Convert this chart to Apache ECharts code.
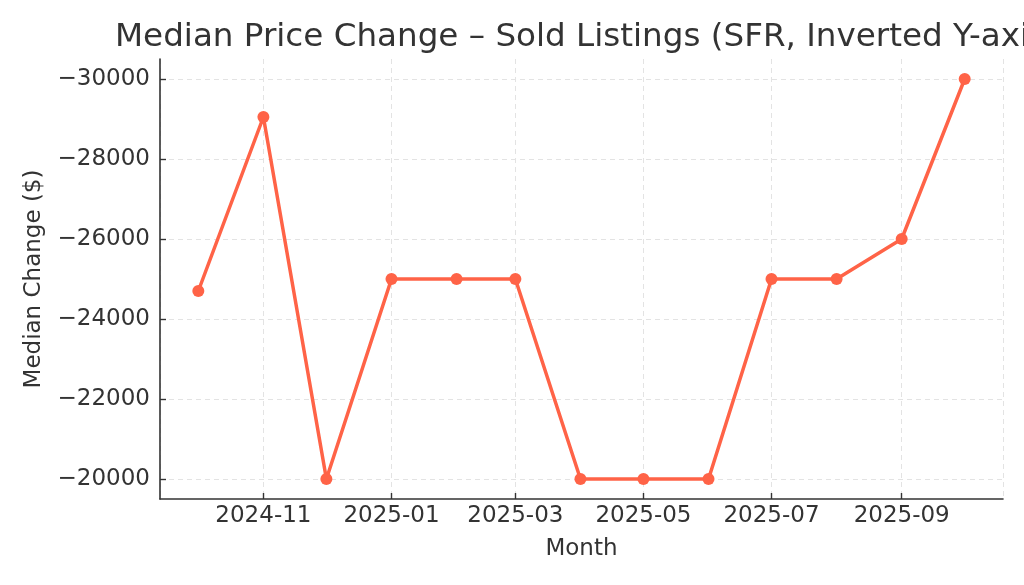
<!DOCTYPE html>
<html>
<head>
<meta charset="utf-8">
<script src="https://cdn.jsdelivr.net/npm/echarts@6/dist/echarts.min.js"></script>
<style>
  html, body { margin: 0; padding: 0; background: #fff; }
  #chart { width: 1024px; height: 585px; }
</style>
</head>
<body>
<div id="chart"></div>
<script>
// monthly points (first day of month)
var months = ['2024-10', '2024-11', '2024-12', '2025-01', '2025-02', '2025-03', '2025-04',
  '2025-05', '2025-06', '2025-07', '2025-08', '2025-09', '2025-10'];
var medianChange = [-24700, -29050, -20000, -25000, -25000, -25000, -20000,
  -20000, -20000, -25000, -25000, -26000, -30000];
var yTicks = [-30000, -28000, -26000, -24000, -22000, -20000];

function toTime(m) {
  var p = m.split('-');
  return Date.UTC(+p[0], +p[1] - 1, 1);
}
var times = months.map(toTime);
var span = times[times.length - 1] - times[0];
var xMin = times[0] - span * 0.05;
var xMax = times[times.length - 1] + span * 0.05;

var textColor = '#333333';
var font = 'DejaVu Sans';

var myChart = echarts.init(document.getElementById('chart'));
myChart.setOption({
  useUTC: true,
  animation: false,
  textStyle: { fontFamily: font, color: textColor },
  title: {
    text: 'Median Price Change \u2013 Sold Listings (SFR, Inverted Y-axis)',
    left: 110,
    top: 16,
    textStyle: { fontFamily: font, fontSize: 32.6, fontWeight: 'normal', color: textColor },
  },
  grid: [
    // main plot area (spines, x axis, data)
    { left: 160, right: 21, top: 59, bottom: 86, containLabel: false },
    // y tick area, inset by the 5% margin
    { left: 160, right: 21, top: 79, bottom: 106, containLabel: false },
  ],
  xAxis: [
    {
      type: 'time',
      gridIndex: 0,
      min: xMin,
      max: xMax,
      splitNumber: 5,
      name: 'Month',
      nameLocation: 'middle',
      nameGap: 39,
      nameTextStyle: { fontFamily: font, fontSize: 23, color: textColor },
      axisLine: { show: true, lineStyle: { color: textColor, width: 1.6 } },
      axisTick: { show: true, inside: true, length: 6, lineStyle: { color: textColor, width: 1.4 } },
      axisLabel: {
        formatter: '{yyyy}-{MM}',
        fontFamily: font,
        fontSize: 23,
        color: textColor,
        margin: 6,
        showMinLabel: false,
        showMaxLabel: false,
      },
      splitLine: { show: true, lineStyle: { color: '#e3e3e3', type: [5, 4], width: 1 } },
      minorTick: { show: false },
    },
    {
      type: 'time',
      gridIndex: 1,
      min: xMin,
      max: xMax,
      show: false,
    },
  ],
  yAxis: [
    {
      type: 'value',
      gridIndex: 0,
      inverse: true,
      min: -30500,
      max: -19500,
      axisLine: { show: true, lineStyle: { color: textColor, width: 1.6 } },
      axisTick: { show: false },
      axisLabel: { show: false },
      splitLine: { show: false },
    },
    {
      type: 'value',
      gridIndex: 1,
      inverse: true,
      min: yTicks[0],
      max: yTicks[yTicks.length - 1],
      interval: 2000,
      name: 'Median Change ($)',
      nameLocation: 'middle',
      nameGap: 114,
      nameTextStyle: { fontFamily: font, fontSize: 23, color: textColor },
      axisLine: { show: false },
      axisTick: { show: true, inside: true, length: 6, lineStyle: { color: textColor, width: 1.4 } },
      axisLabel: {
        fontFamily: font,
        fontSize: 23,
        color: textColor,
        margin: 10,
        formatter: function (v) { return String(v).replace('-', '\u2212'); },
      },
      splitLine: { show: true, lineStyle: { color: '#e3e3e3', type: [5, 4], width: 1 } },
    },
  ],
  series: [
    {
      type: 'line',
      xAxisIndex: 0,
      yAxisIndex: 0,
      data: times.map(function (t, i) { return [t, medianChange[i]]; }),
      symbol: 'circle',
      symbolSize: 12,
      lineStyle: { color: '#FF6347', width: 3.5 },
      itemStyle: { color: '#FF6347' },
      z: 5,
    },
  ],
});
</script>
</body>
</html>
